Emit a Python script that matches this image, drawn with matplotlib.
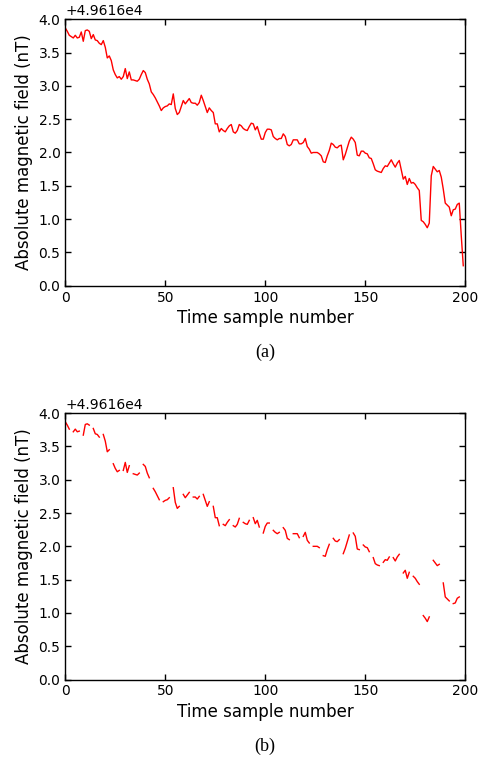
import numpy as np
import matplotlib
matplotlib.use('Agg')
import matplotlib.pyplot as plt

# Campo magnetico absoluto (nT), offset respecto a la base
base = 49616
campo = [3.87, 3.82, 3.76, 3.74, 3.72, 3.76, 3.72, 3.73, 3.81, 3.67,
         3.83, 3.84, 3.82, 3.71, 3.77, 3.69, 3.68, 3.64, 3.62, 3.68,
         3.58, 3.42, 3.45, 3.38, 3.24, 3.17, 3.12, 3.14, 3.10, 3.14,
         3.26, 3.11, 3.21, 3.09, 3.09, 3.08, 3.07, 3.10, 3.17, 3.23,
         3.20, 3.10, 3.03, 2.91, 2.87, 2.82, 2.76, 2.70, 2.63, 2.67,
         2.69, 2.70, 2.73, 2.72, 2.88, 2.66, 2.57, 2.60, 2.69, 2.78,
         2.73, 2.77, 2.81, 2.75, 2.74, 2.74, 2.71, 2.75, 2.86, 2.78,
         2.69, 2.60, 2.67, 2.63, 2.60, 2.43, 2.43, 2.31, 2.36, 2.33,
         2.31, 2.36, 2.40, 2.42, 2.31, 2.29, 2.33, 2.42, 2.40, 2.36,
         2.34, 2.33, 2.39, 2.44, 2.43, 2.34, 2.39, 2.29, 2.20, 2.20,
         2.30, 2.35, 2.35, 2.34, 2.24, 2.21, 2.19, 2.21, 2.21, 2.28,
         2.24, 2.12, 2.10, 2.12, 2.19, 2.19, 2.19, 2.13, 2.13, 2.15,
         2.21, 2.09, 2.05, 1.99, 2.00, 2.00, 2.00, 1.98, 1.95, 1.86,
         1.85, 1.95, 2.03, 2.14, 2.12, 2.08, 2.07, 2.10, 2.11, 1.89,
         1.97, 2.07, 2.17, 2.23, 2.20, 2.15, 1.96, 1.95, 2.02, 2.02,
         1.99, 1.98, 1.92, 1.91, 1.83, 1.74, 1.72, 1.71, 1.70, 1.76,
         1.80, 1.79, 1.84, 1.89, 1.83, 1.78, 1.84, 1.88, 1.74, 1.60,
         1.64, 1.52, 1.61, 1.54, 1.55, 1.52, 1.47, 1.43, 0.98, 0.96,
         0.92, 0.87, 0.94, 1.65, 1.79, 1.75, 1.71, 1.73, 1.63, 1.45,
         1.24, 1.21, 1.18, 1.05, 1.14, 1.15, 1.22, 1.24, 0.75, 0.30]

# muestras perdidas en (b)
perdidas = [3, 8, 13, 18, 23, 28, 33, 38, 43, 48,
            53, 58, 63, 68, 73, 78, 83, 88, 93, 98,
            103, 108, 113, 118, 123, 128, 133, 138, 143, 148,
            153, 158, 163, 168, 173, 178, 183, 188, 193, 198]

muestras = np.arange(len(campo))
y = base + np.array(campo)
y_b = y.copy()
y_b[perdidas] = np.nan

fig = plt.figure(figsize=(4.85, 7.6), dpi=100)
ax1 = fig.add_axes([0.1346, 0.6241, 0.8247, 0.3505])
ax2 = fig.add_axes([0.1346, 0.1059, 0.8247, 0.3505])

for ax, datos in [(ax1, y), (ax2, y_b)]:
    ax.plot(muestras, datos, color='r', linewidth=1.0)
    ax.set_xlim(0, 200)
    ax.set_ylim(base, base + 4)
    ax.set_xticks(np.arange(0, 201, 50))
    ax.set_yticks(base + np.arange(0, 4.01, 0.5))
    ax.set_yticklabels(['%.1f' % v for v in np.arange(0, 4.01, 0.5)])
    ax.tick_params(direction='in', top=True, right=True, length=4, width=1, labelsize=10)
    for s in ax.spines.values():
        s.set_linewidth(1.0)
    ax.set_xlabel('Time sample number', fontsize=12, labelpad=3)
    ax.set_ylabel('Absolute magnetic field (nT)', fontsize=12, labelpad=4)
    # offset de la escala
    ax.text(0.0, 1.005, '+4.9616e4', transform=ax.transAxes, fontsize=10,
            ha='left', va='bottom')

fig.text(265 / 485, 1 - 352 / 760, '(a)', ha='center', va='center',
         fontsize=13, family='Liberation Serif')
fig.text(265 / 485, 1 - 746 / 760, '(b)', ha='center', va='center',
         fontsize=13, family='Liberation Serif')

fig.savefig('out.png', dpi=100)
